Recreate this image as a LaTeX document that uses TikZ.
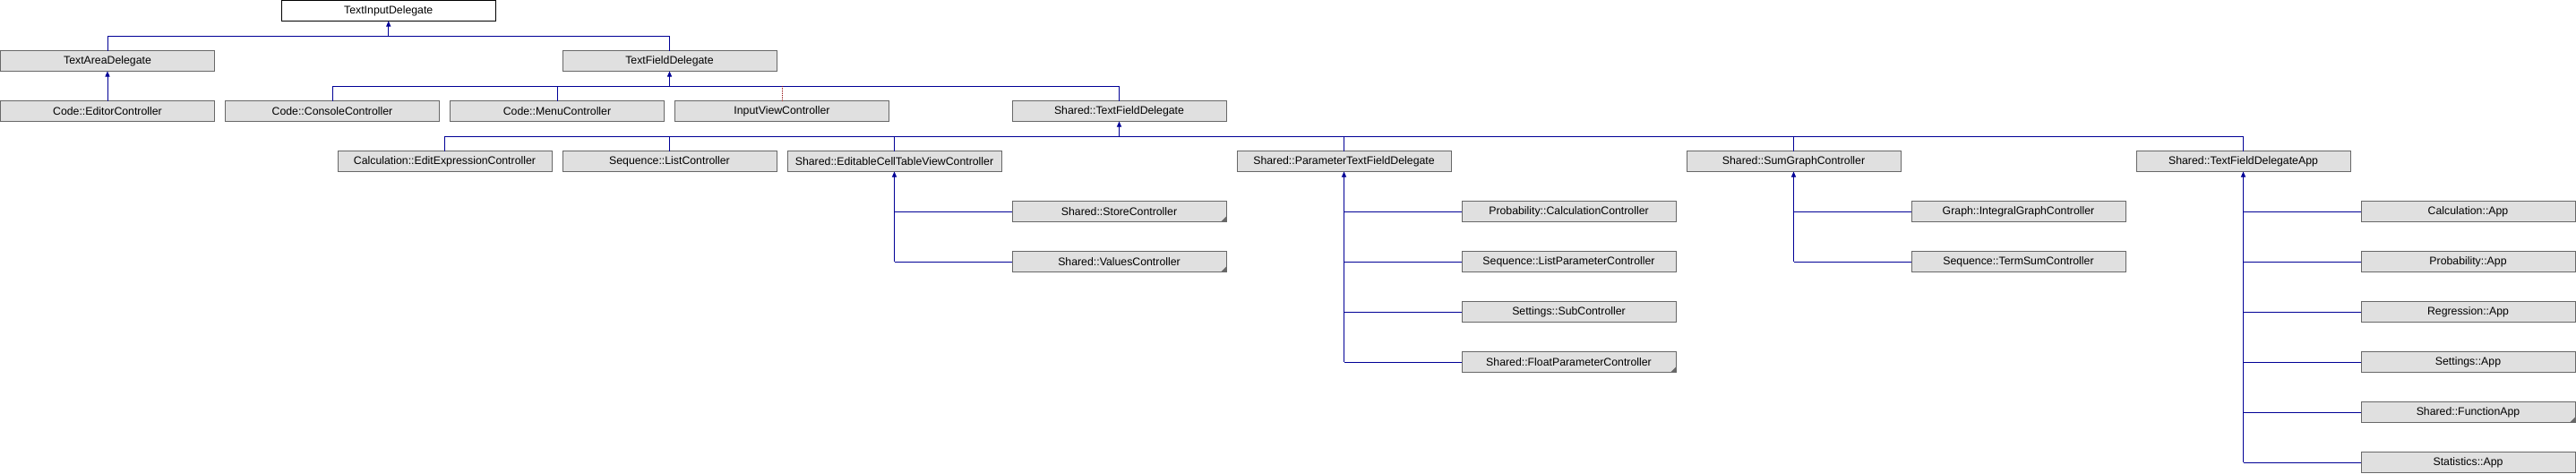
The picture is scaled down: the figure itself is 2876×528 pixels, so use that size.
\documentclass[tikz,border=0pt]{standalone}
\usepackage{fontspec}
\setmainfont{Liberation Sans}
\usetikzlibrary{arrows.meta}
\definecolor{inhblue}{RGB}{0,0,150}
\definecolor{privred}{RGB}{140,0,0}
\definecolor{boxfill}{RGB}{224,224,224}
\definecolor{boxline}{RGB}{104,104,104}
\begin{document}
\begin{tikzpicture}[x=1pt,y=-1pt,
 cls/.style={draw=boxline, fill=boxfill, line width=1pt, minimum width=239pt, minimum height=23pt,
   inner sep=0pt, outer sep=0pt, anchor=north west, font=\fontsize{12.3}{14}\selectfont},
 focus/.style={cls, draw=black, fill=white},
 inh/.style={draw=inhblue, line width=1pt},
 priv/.style={draw=privred, line width=1pt, dash pattern=on 1pt off 1pt},
 uptip/.style={-{Triangle[width=5pt,length=6pt]}},
 moremark/.style={fill=boxline, draw=none}
]
\fill[white] (0,0) rectangle (2876,528);
\useasboundingbox (0,0) rectangle (2876,528);

% bar levels
\coordinate (bar1) at (0,40);
\coordinate (bar2) at (0,96);
\coordinate (bar3) at (0,152);

% row 0
\node[focus] (tid) at (314.25,0.5) {TextInputDelegate};
% row 1
\node[cls] (tad) at (0.5,56.5) {TextAreaDelegate};
\node[cls] (tfd) at (628,56.5) {TextFieldDelegate};
% row 2
\node[cls] (cec) at (0.5,112.5) {Code::EditorController};
\node[cls] (ccc) at (251.5,112.5) {Code::ConsoleController};
\node[cls] (cmc) at (502.5,112.5) {Code::MenuController};
\node[cls] (ivc) at (753.5,112.5) {InputViewController};
\node[cls] (stfd) at (1130,112.5) {Shared::TextFieldDelegate};
% row 3
\node[cls] (ceec) at (377,168.5) {Calculation::EditExpressionController};
\node[cls] (slc) at (628,168.5) {Sequence::ListController};
\node[cls] (sec) at (879,168.5) {Shared::EditableCellTableViewController};
\node[cls] (sptf) at (1381,168.5) {Shared::ParameterTextFieldDelegate};
\node[cls] (ssgc) at (1883,168.5) {Shared::SumGraphController};
\node[cls] (stfa) at (2385,168.5) {Shared::TextFieldDelegateApp};
% column 4.5
\node[cls] (ssc) at (1130,224.5) {Shared::StoreController};
\node[cls] (svc) at (1130,280.5) {Shared::ValuesController};
% column 6.5
\node[cls] (pcc) at (1632,224.5) {Probability::CalculationController};
\node[cls] (slpc) at (1632,280.5) {Sequence::ListParameterController};
\node[cls] (ssub) at (1632,336.5) {Settings::SubController};
\node[cls] (sfpc) at (1632,392.5) {Shared::FloatParameterController};
% column 8.5
\node[cls] (gigc) at (2134,224.5) {Graph::IntegralGraphController};
\node[cls] (stsc) at (2134,280.5) {Sequence::TermSumController};
% column 10.5
\node[cls] (capp) at (2636,224.5) {Calculation::App};
\node[cls] (papp) at (2636,280.5) {Probability::App};
\node[cls] (rapp) at (2636,336.5) {Regression::App};
\node[cls] (sapp) at (2636,392.5) {Settings::App};
\node[cls] (sfa) at (2636,448.5) {Shared::FunctionApp};
\node[cls] (stapp) at (2636,504.5) {Statistics::App};

% "more" marks
\foreach \n in {ssc,svc,sfpc,sfa}{
  \fill[moremark] ([xshift=-6pt]\n.south east) -- (\n.south east) -- ([yshift=6pt]\n.south east) -- cycle;
}

% TextInputDelegate -> children
\draw[inh] (tad.north) |- (tid.south |- bar1);
\draw[inh] (tfd.north) |- (tid.south |- bar1);
\draw[inh,uptip] (tid.south |- bar1) -- (tid.south);

% TextAreaDelegate -> Code::EditorController
\draw[inh,uptip] (cec.north) -- (tad.south);

% TextFieldDelegate -> children
\draw[inh] (ccc.north) |- (tfd.south |- bar2);
\draw[inh] (cmc.north) -- (cmc.north |- bar2);
\draw[inh] (stfd.north) |- (tfd.south |- bar2);
\draw[priv] (ivc.north) -- (ivc.north |- bar2);
\draw[inh,uptip] (tfd.south |- bar2) -- (tfd.south);

% Shared::TextFieldDelegate -> children
\draw[inh] (ceec.north) |- (stfd.south |- bar3);
\draw[inh] (slc.north) -- (slc.north |- bar3);
\draw[inh] (sec.north) -- (sec.north |- bar3);
\draw[inh] (sptf.north) -- (sptf.north |- bar3);
\draw[inh] (ssgc.north) -- (ssgc.north |- bar3);
\draw[inh] (stfa.north) |- (stfd.south |- bar3);
\draw[inh,uptip] (stfd.south |- bar3) -- (stfd.south);

% Shared::EditableCellTableViewController -> children
\foreach \c in {ssc,svc}{ \draw[inh] (\c.west) -- (sec.south |- \c.west); }
\draw[inh,uptip] (sec.south |- svc.west) -- (sec.south);

% Shared::ParameterTextFieldDelegate -> children
\foreach \c in {pcc,slpc,ssub,sfpc}{ \draw[inh] (\c.west) -- (sptf.south |- \c.west); }
\draw[inh,uptip] (sptf.south |- sfpc.west) -- (sptf.south);

% Shared::SumGraphController -> children
\foreach \c in {gigc,stsc}{ \draw[inh] (\c.west) -- (ssgc.south |- \c.west); }
\draw[inh,uptip] (ssgc.south |- stsc.west) -- (ssgc.south);

% Shared::TextFieldDelegateApp -> children
\foreach \c in {capp,papp,rapp,sapp,sfa,stapp}{ \draw[inh] (\c.west) -- (stfa.south |- \c.west); }
\draw[inh,uptip] (stfa.south |- stapp.west) -- (stfa.south);
\end{tikzpicture}
\end{document}
